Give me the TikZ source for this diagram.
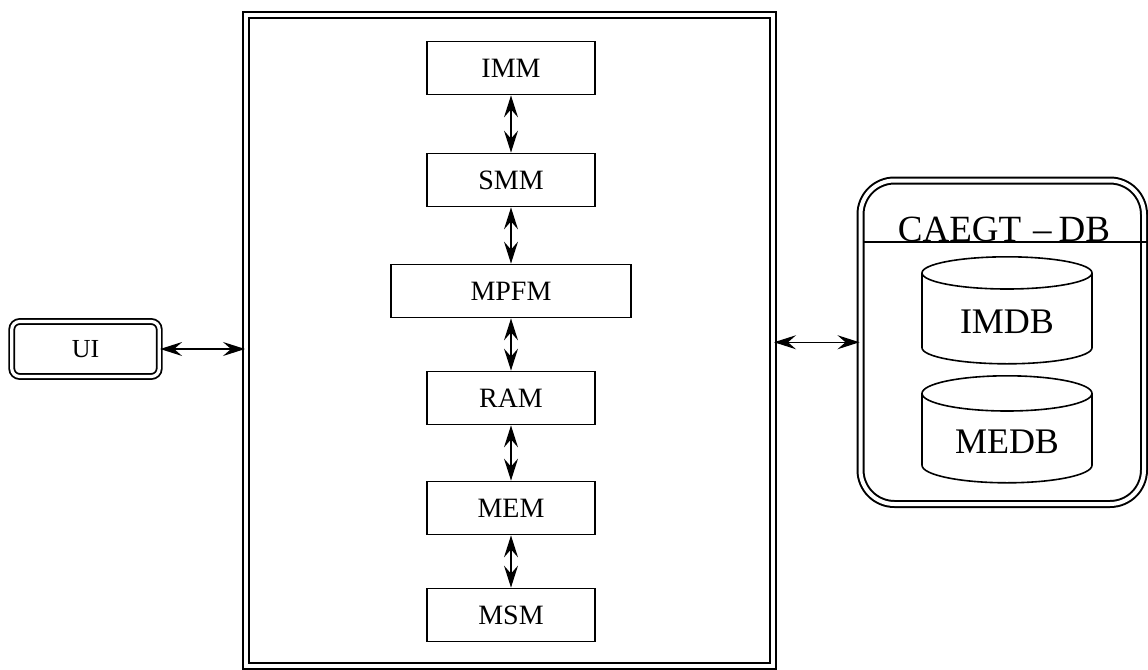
\documentclass[tikz,border=0pt]{standalone}
\usepackage{fontspec}
\setmainfont{Liberation Serif}
\usetikzlibrary{shapes.geometric, arrows.meta, calc, positioning}

\begin{document}
\begin{tikzpicture}[x=0.5pt, y=-0.5pt, >={Stealth[length=11pt, width=7pt, inset=4pt]},
    module/.style={draw, line width=0.9pt, minimum width=84pt, minimum height=26.5pt, font=\fontsize{14}{16}\selectfont},
    dbstore/.style={draw, line width=0.8pt, cylinder, shape border rotate=90, aspect=0.3, minimum width=85pt, minimum height=53.5pt, anchor=north, font=\fontsize{18}{22}\selectfont},
    link/.style={<->, line width=0.6pt}]
    \useasboundingbox (0,0) rectangle (1148,670);
    \node[draw, double, double distance=2pt, line width=1pt, minimum width=263.5pt, minimum height=325.75pt] (core) at (509.5,340.25) {};
    \node[module] (imm) at (511,68) {IMM};
    \node[module] (smm) at (511,180) {SMM};
    \node[module, minimum width=120pt] (mpfm) at (511,291) {MPFM};
    \node[module] (ram) at (511,398) {RAM};
    \node[module] (mem) at (511,508) {MEM};
    \node[module] (msm) at (511,615) {MSM};
    \foreach \a/\b in {imm/smm, smm/mpfm, mpfm/ram, ram/mem, mem/msm}
        \draw[link] (\a) -- (\b);
    \node[draw, double, double distance=1.6pt, line width=0.9pt, rounded corners=4pt, minimum width=73.75pt, minimum height=27.5pt, font=\fontsize{13}{16}\selectfont] (ui) at (85.5,349) {UI};
    \draw[link] (ui.east) -- (ui.east -| core.west);
    \node[draw, double, double distance=2pt, line width=1pt, rounded corners=17pt, minimum width=141.75pt, minimum height=161.75pt] (db) at (1002.25,342.25) {};
    \draw[link] (db.west -| core.east) -- (db.west);
    \node[font=\fontsize{18.5}{22}\selectfont, anchor=base] (dbtitle) at (1004,241) {CAEGT\hspace{6pt}--\hspace{3.5pt}DB};
    \draw[line width=0.8pt] (863,242) -- (1147,242);
    \node[dbstore] (imdb) at (1007,256) {IMDB};
    \node[dbstore] (medb) at (1007,375) {MEDB};
\end{tikzpicture}
\end{document}
